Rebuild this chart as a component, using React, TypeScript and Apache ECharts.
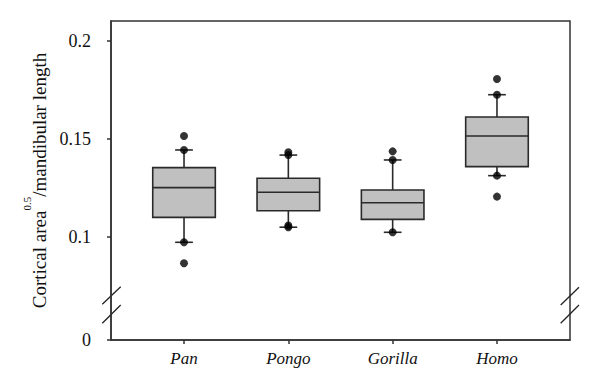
import React, { useEffect, useRef } from "react";
import * as echarts from "echarts";

// ---- data ----
const categories = ["Pan", "Pongo", "Gorilla", "Homo"];
const whiskerLow = [0.0973, 0.105, 0.1024, 0.1313];
const quart1 = [0.11, 0.1134, 0.109, 0.1359];
const medians = [0.1252, 0.1228, 0.1175, 0.1515];
const quart3 = [0.1354, 0.13, 0.124, 0.1612];
const whiskerHigh = [0.1444, 0.1418, 0.1393, 0.1726];
const dotsPan = [0.1515, 0.1444, 0.0973, 0.0866];
const dotsPongo = [0.1432, 0.1418, 0.1059, 0.105];
const dotsGorilla = [0.1437, 0.1393, 0.1024];
const dotsHomo = [0.1806, 0.1726, 0.1313, 0.1206];
const yTickValues = [0.1, 0.15, 0.2];
const yBreakLabel = "0";
const Y_MIN = 0.04745; // bottom of broken axis, labelled "0"
const Y_MAX = 0.2102;

const FONT = "'Liberation Serif', 'Times New Roman', serif";

export default function App() {
  const ref = useRef<HTMLDivElement>(null);
  useEffect(() => {
    if (!ref.current) return;
    const chart = echarts.init(ref.current, null, { renderer: "svg" });

    const boxData = categories.map((_, i) => [
      i + 1,
      whiskerLow[i],
      quart1[i],
      medians[i],
      quart3[i],
      whiskerHigh[i],
    ]);
    const dotGroups = [dotsPan, dotsPongo, dotsGorilla, dotsHomo];
    const dotData: number[][] = [];
    dotGroups.forEach((g, i) => g.forEach((v) => dotData.push([i + 1, v])));

    const stroke = "#2a2a2a";

    chart.setOption({
      animation: false,
      backgroundColor: "#fff",
      textStyle: { fontFamily: FONT },
      grid: {
        left: 111,
        top: 21,
        right: 30,
        bottom: 50,
        show: true,
        borderColor: "#333",
        borderWidth: 1.5,
      },
      xAxis: {
        type: "value",
        min: 0.3,
        max: 4.7,
        splitLine: { show: false },
        axisLine: { show: true, lineStyle: { color: "#333", width: 1.5 } },
        axisTick: {
          show: true,
          length: 4,
          customValues: categories.map((_, i) => i + 1),
          lineStyle: { color: "#333", width: 1.5 },
        },
        axisLabel: {
          customValues: categories.map((_, i) => i + 1),
          formatter: (v: number) => "{c|" + (categories[Math.round(v) - 1] ?? "") + "}",
          margin: 10,
          rich: {
            c: { fontFamily: FONT, fontStyle: "italic", fontSize: 17, color: "#111" },
          },
        },
      },
      yAxis: {
        type: "value",
        min: Y_MIN,
        max: Y_MAX,
        splitLine: { show: false },
        axisLine: { show: true, lineStyle: { color: "#333", width: 1.5 } },
        axisTick: {
          show: true,
          length: 4,
          customValues: [Y_MIN, ...yTickValues],
          lineStyle: { color: "#333", width: 1.5 },
        },
        axisLabel: {
          customValues: [Y_MIN, ...yTickValues],
          formatter: (v: number) =>
            "{t|" + (Math.abs(v - Y_MIN) < 1e-9 ? yBreakLabel : String(v)) + "}",
          margin: 20,
          rich: {
            t: { fontFamily: FONT, fontSize: 18, color: "#111" },
          },
        },
        name: "{m|Cortical area}{s|0.5}{m|/mandibular length}",
        nameLocation: "middle",
        nameRotate: 90,
        nameGap: 52,
        nameTextStyle: {
          rich: {
            m: { fontFamily: FONT, fontSize: 19, color: "#111", lineHeight: 36 },
            s: {
              fontFamily: FONT,
              fontSize: 11,
              color: "#111",
              lineHeight: 12,
              verticalAlign: "top",
            },
          },
        },
      },
      series: [
        {
          type: "custom",
          data: boxData,
          renderItem: (params: any, api: any) => {
            const x = api.value(0);
            const lo = api.coord([x, api.value(1)]);
            const q1 = api.coord([x, api.value(2)]);
            const md = api.coord([x, api.value(3)]);
            const q3 = api.coord([x, api.value(4)]);
            const hi = api.coord([x, api.value(5)]);
            const half = api.size([0.6, 0])[0] / 2;
            const cap = api.size([0.17, 0])[0] / 2;
            const ls = { stroke, lineWidth: 1.6 };
            return {
              type: "group",
              children: [
                { type: "line", shape: { x1: hi[0], y1: hi[1], x2: q3[0], y2: q3[1] }, style: ls },
                { type: "line", shape: { x1: lo[0], y1: lo[1], x2: q1[0], y2: q1[1] }, style: ls },
                { type: "line", shape: { x1: hi[0] - cap, y1: hi[1], x2: hi[0] + cap, y2: hi[1] }, style: ls },
                { type: "line", shape: { x1: lo[0] - cap, y1: lo[1], x2: lo[0] + cap, y2: lo[1] }, style: ls },
                {
                  type: "rect",
                  shape: { x: q3[0] - half, y: q3[1], width: half * 2, height: q1[1] - q3[1] },
                  style: { fill: "#c0c0c0", stroke, lineWidth: 1.6 },
                },
                { type: "line", shape: { x1: md[0] - half, y1: md[1], x2: md[0] + half, y2: md[1] }, style: ls },
              ],
            };
          },
        },
        {
          type: "scatter",
          data: dotData,
          symbol: "circle",
          symbolSize: 8,
          itemStyle: { color: "#000" },
          z: 5,
        },
      ],
      graphic: [
        { type: "line", shape: { x1: 102.3, y1: 304.3, x2: 120.7, y2: 286.7 }, style: { stroke: "#222", lineWidth: 1.3 } },
        { type: "line", shape: { x1: 102.3, y1: 323.3, x2: 120.7, y2: 305 }, style: { stroke: "#222", lineWidth: 1.3 } },
        { type: "line", shape: { x1: 560.7, y1: 305, x2: 579, y2: 287.3 }, style: { stroke: "#222", lineWidth: 1.3 } },
        { type: "line", shape: { x1: 560.7, y1: 323.3, x2: 579, y2: 305 }, style: { stroke: "#222", lineWidth: 1.3 } },
      ],
    });
    return () => chart.dispose();
  }, []);
  return (
    <div
      ref={ref}
      style={{ position: "fixed", left: 0, top: 0, width: 600, height: 390, background: "#fff" }}
    />
  );
}
